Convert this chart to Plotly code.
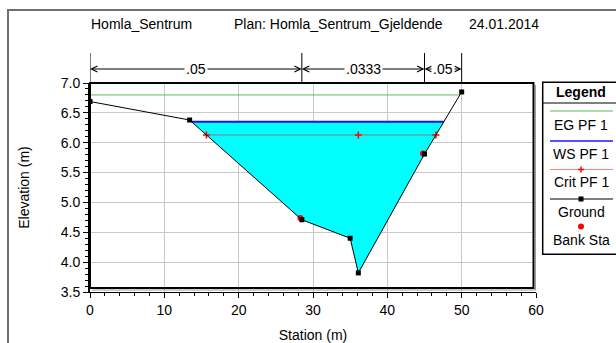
import numpy as np
import plotly.graph_objects as go

# ---- cross-section data (station m, elevation m) ----
ground_sta = [0.0, 13.4, 28.5, 35.0, 36.1, 45.0, 50.0]
ground_elev = [6.69, 6.38, 4.71, 4.40, 3.82, 5.81, 6.85]
bank_sta = [28.3, 44.8]
bank_elev = [4.74, 5.82]
ws_elev = 6.35      # water surface PF 1
crit_elev = 6.13    # critical depth PF 1
eg_elev = 6.80      # energy grade PF 1

# Manning's n regions along the top
n_breaks = [0.0, 28.5, 45.0, 50.0]
n_labels = [".05", ".0333", ".05"]

title_parts = ["Homla_Sentrum", "Plan: Homla_Sentrum_Gjeldende", "24.01.2014"]
legend_names = ["EG PF 1", "WS PF 1", "Crit PF 1", "Ground", "Bank Sta"]

FONT = "Liberation Sans, Arial, sans-serif"
FS = 14

# ---- figure geometry (pixels) ----
W_FIG, H_FIG = 616, 343
L, T = 90, 83
PW, PH = 446, 209
R = W_FIG - L - PW
B = H_FIG - T - PH


def px(p):
    return (p - L) / PW


def py(p):
    return (T + PH - p) / PH


gs = np.array(ground_sta)
ge = np.array(ground_elev)
thalweg = int(np.argmin(ge))


def edge_crossings(level):
    """Stations where a level meets the ground on each side of the thalweg."""
    i = thalweg
    while i > 0 and ge[i - 1] < level:
        i -= 1
    left = np.interp(level, [ge[i], ge[i - 1]], [gs[i], gs[i - 1]]) if i > 0 else gs[0]
    j = thalweg
    while j < len(gs) - 1 and ge[j + 1] < level:
        j += 1
    right = (np.interp(level, [ge[j], ge[j + 1]], [gs[j], gs[j + 1]])
             if j < len(gs) - 1 else gs[-1])
    return left, right, i, j


ws_l, ws_r, wi, wj = edge_crossings(ws_elev)
cr_l, cr_r, _, _ = edge_crossings(crit_elev)
eg_l, eg_r, _, _ = edge_crossings(eg_elev)

CRIT_LINE = "rgba(255,0,0,0.5)"

fig = go.Figure()

# wetted area
fill_x = [ws_l] + list(gs[wi:wj + 1]) + [ws_r]
fill_y = [ws_elev] + list(ge[wi:wj + 1]) + [ws_elev]
fig.add_trace(go.Scatter(x=fill_x, y=fill_y, fill="toself", fillcolor="#00ffff",
                         mode="none", hoverinfo="skip"))

# energy grade
fig.add_trace(go.Scatter(x=[eg_l, eg_r], y=[eg_elev, eg_elev], mode="lines",
                         line=dict(color="#5cb85c", width=1)))
# water surface
fig.add_trace(go.Scatter(x=[ws_l, ws_r], y=[ws_elev, ws_elev], mode="lines",
                         line=dict(color="#1a1ad0", width=2)))
# critical depth
fig.add_trace(go.Scatter(x=[cr_l, gs[thalweg], cr_r], y=[crit_elev] * 3,
                         mode="lines+markers",
                         line=dict(color=CRIT_LINE, width=1),
                         marker=dict(symbol="cross-thin", size=5,
                                     line=dict(color="red", width=1.5))))
# bank stations
fig.add_trace(go.Scatter(x=bank_sta, y=bank_elev, mode="markers",
                         marker=dict(symbol="circle", size=6, color="red")))
# ground
fig.add_trace(go.Scatter(x=ground_sta, y=ground_elev, mode="lines+markers",
                         line=dict(color="black", width=1),
                         marker=dict(symbol="square", size=5, color="black")))

shapes = []
annotations = []


def label(txt, xp, yp, **kw):
    annotations.append(dict(x=xp, y=yp, xref="paper", yref="paper", text=txt,
                            showarrow=False, xanchor="center", yanchor="middle",
                            font=dict(size=FS, color="black"), **kw))


# plot frame with shadow
shapes.append(dict(type="rect", xref="paper", yref="paper",
                   x0=px(L), x1=px(533.5), y0=py(288), y1=py(T),
                   line=dict(color="black", width=2)))
shapes.append(dict(type="line", xref="paper", yref="paper",
                   x0=px(535.5), x1=px(535.5), y0=py(290), y1=py(85),
                   line=dict(color="#9a9a9a", width=1)))
shapes.append(dict(type="line", xref="paper", yref="paper",
                   x0=px(92), x1=px(535.5), y0=py(290), y1=py(290),
                   line=dict(color="#9a9a9a", width=1)))

# outer border
shapes.append(dict(type="rect", xref="paper", yref="paper",
                   x0=px(8), x1=px(700), y0=py(400), y1=py(10),
                   line=dict(color="#707070", width=2)))

# Manning's n dimension lines
y_top, y_arrow = py(53), py(69)
for b in n_breaks:
    shapes.append(dict(type="line", xref="x", yref="paper", x0=b, x1=b,
                       y0=1, y1=y_top, line=dict(color="black", width=1)))
for k, lab in enumerate(n_labels):
    a, b = n_breaks[k], n_breaks[k + 1]
    mid = (a + b) / 2
    for tip in (a, b):
        annotations.append(dict(x=tip, y=y_arrow, xref="x", yref="paper",
                                ax=mid, ay=0, axref="x", ayref="pixel",
                                text="", showarrow=True, arrowhead=5,
                                arrowsize=1.2, arrowwidth=1, arrowcolor="black",
                                standoff=0))
for k, lab in enumerate(n_labels):
    mid = (n_breaks[k] + n_breaks[k + 1]) / 2
    annotations.append(dict(x=mid, y=y_arrow, xref="x", yref="paper",
                            text=lab, showarrow=False, bgcolor="white",
                            xanchor="center", yanchor="middle",
                            borderpad=1, font=dict(size=FS, color="black")))

# header line
for txt, xc in zip(title_parts, [141.5, 338, 503.5]):
    label(txt, px(xc), py(24))

# legend panel
lx0, lxc = 542.7, 581
shapes.append(dict(type="rect", xref="paper", yref="paper",
                   x0=px(lx0), x1=px(700), y0=py(254.3), y1=py(82.3),
                   line=dict(color="black", width=1.5)))
shapes.append(dict(type="line", xref="paper", yref="paper",
                   x0=px(lx0), x1=px(700), y0=py(103), y1=py(103),
                   line=dict(color="black", width=1)))
label("<b>Legend</b>", px(lxc), py(92))
sample_y = [111, 141, 169.5, 199]
sample_col = ["#5cb85c", "#1a1aff", CRIT_LINE, "black"]
sample_w = [1, 1.5, 1, 1]
for yy, c, w in zip(sample_y, sample_col, sample_w):
    shapes.append(dict(type="line", xref="paper", yref="paper",
                       x0=px(550), x1=px(613), y0=py(yy), y1=py(yy),
                       line=dict(color=c, width=w)))
# crit marker "+"
shapes.append(dict(type="line", xref="paper", yref="paper",
                   x0=px(lxc - 3), x1=px(lxc + 3), y0=py(169.5), y1=py(169.5),
                   line=dict(color="red", width=1.5)))
shapes.append(dict(type="line", xref="paper", yref="paper",
                   x0=px(lxc), x1=px(lxc), y0=py(166.5), y1=py(172.5),
                   line=dict(color="red", width=1.5)))
# ground marker
shapes.append(dict(type="rect", xref="paper", yref="paper",
                   x0=px(lxc - 2.5), x1=px(lxc + 2.5), y0=py(201.5), y1=py(196.5),
                   fillcolor="black", line=dict(width=0)))
# bank marker
shapes.append(dict(type="circle", xref="paper", yref="paper",
                   x0=px(lxc - 3), x1=px(lxc + 3), y0=py(229.5), y1=py(223.5),
                   fillcolor="red", line=dict(width=0)))
for txt, yy in zip(legend_names, [125, 154, 182, 211.5, 240]):
    label(txt, px(lxc), py(yy))

fig.update_layout(
    width=W_FIG, height=H_FIG,
    margin=dict(l=L, r=R, t=T, b=B),
    paper_bgcolor="white", plot_bgcolor="white",
    showlegend=False,
    font=dict(family=FONT, size=FS, color="black"),
    shapes=shapes, annotations=annotations,
    xaxis=dict(range=[0, 60], dtick=10, tick0=0, showgrid=True,
               gridcolor="#c8c8c8", gridwidth=1, zeroline=False,
               showline=True, linecolor="black", linewidth=1,
               ticks="outside", ticklen=5, tickcolor="black",
               automargin=False,
               minor=dict(dtick=2, ticks="outside", ticklen=3,
                          tickcolor="black", showgrid=False),
               title=dict(text="Station (m)", standoff=16,
                          font=dict(size=FS))),
    yaxis=dict(range=[3.5, 7.0], dtick=0.5, tick0=3.5, tickformat=".1f",
               showgrid=True, gridcolor="#c8c8c8", gridwidth=1,
               zeroline=False, showline=True, linecolor="black", linewidth=2,
               ticks="outside", ticklen=5, tickcolor="black",
               automargin=False,
               minor=dict(dtick=0.1, ticks="outside", ticklen=3,
                          tickcolor="black", showgrid=False),
               title=dict(text="Elevation (m)", standoff=28,
                          font=dict(size=FS))),
)

fig.write_html("out.html")
